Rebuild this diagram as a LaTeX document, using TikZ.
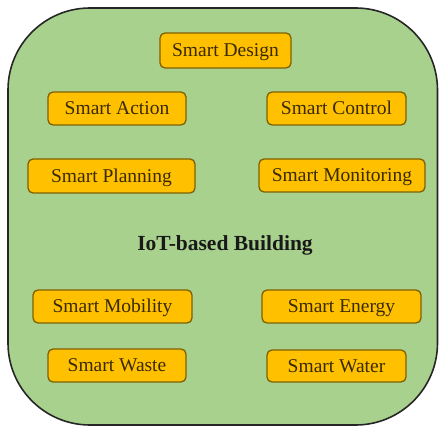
\documentclass[tikz,border=0pt]{standalone}
\usepackage{fontspec}
\setmainfont{Liberation Serif}
\definecolor{bggreen}{HTML}{A9D18E}
\definecolor{boxorange}{HTML}{FFC000}
\definecolor{boxborder}{HTML}{7F6000}
\definecolor{txtdark}{HTML}{3A2A00}
\begin{document}
\begin{tikzpicture}[x=1pt,y=-1pt,
  smartbox/.style={draw=boxborder, fill=boxorange, line width=1.3pt, rounded corners=5pt,
    minimum height=33pt, inner sep=0pt, text height=13pt, text depth=0pt, text=txtdark,
    font=\fontsize{19.5}{22}\selectfont},
  titletext/.style={font=\fontsize{21.5}{24}\selectfont\bfseries, text=black!90,
    text height=14pt, text depth=0pt, inner sep=0pt}]
\useasboundingbox (0,0) rectangle (439,427);
\draw[fill=bggreen, draw=black!85, line width=1.6pt, rounded corners=82pt] (8,8) rectangle (437.5,425);
\node[smartbox, minimum width=131pt, minimum height=35pt] (design) at (225.5,50.5) {Smart Design};
\node[smartbox, minimum width=138pt] (action) at (117,108.5) {Smart Action};
\node[smartbox, minimum width=139pt] (control) at (336.5,108.5) {Smart Control};
\node[smartbox, minimum width=167pt, minimum height=34pt] (planning) at (111.5,176) {Smart Planning};
\node[smartbox, minimum width=166pt] (monitoring) at (342,175.5) {Smart Monitoring};
\node[titletext] (iot) at (225,244) {IoT-based Building};
\node[smartbox, minimum width=159pt] (mobility) at (112.5,306.5) {Smart Mobility};
\node[smartbox, minimum width=159pt] (energy) at (341.5,306.5) {Smart Energy};
\node[smartbox, minimum width=138pt] (waste) at (117,365.5) {Smart Waste};
\node[smartbox, minimum width=139pt, minimum height=32pt] (water) at (336.5,366) {Smart Water};
\end{tikzpicture}
\end{document}
